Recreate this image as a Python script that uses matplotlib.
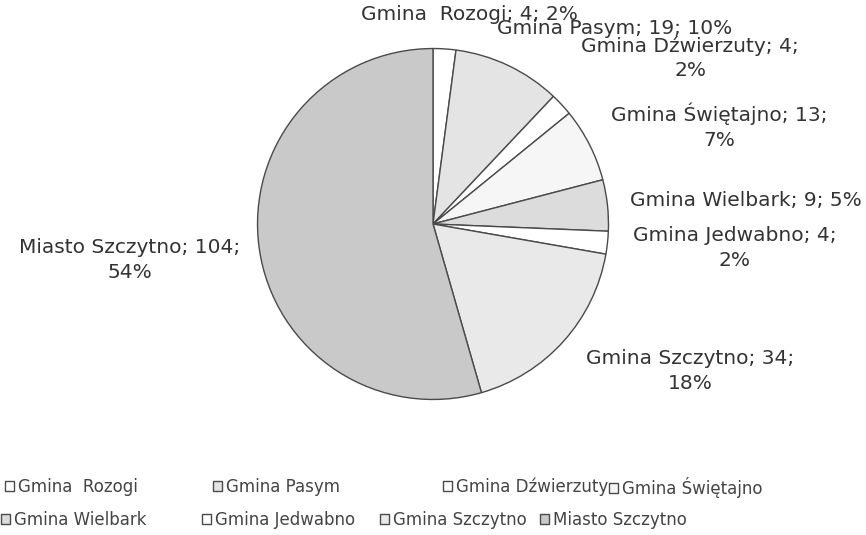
import matplotlib
matplotlib.use("Agg")
import matplotlib.pyplot as plt

# data
names = ["Gmina  Rozogi", "Gmina Pasym", "Gmina Dźwierzuty", "Gmina Świętajno",
         "Gmina Wielbark", "Gmina Jedwabno", "Gmina Szczytno", "Miasto Szczytno"]
counts = [4, 19, 4, 13, 9, 4, 34, 104]
percents = [2, 10, 2, 7, 5, 2, 18, 54]

# styling
fills = ["#ffffff", "#e4e4e4", "#ffffff", "#f6f6f6",
         "#dcdcdc", "#ffffff", "#e9e9e9", "#c9c9c9"]
# label text centres in pixels (x, y from top) and line breaks
label_pos = [(469, 15), (615, 28), (690, 58), (719, 126),
             (746, 200), (735, 248), (690, 371), (130, 260)]
two_line = [False, False, True, True, False, True, True, True]
# legend marker left edge (px), row y (px)
legend_pos = [(5, 487), (213, 487), (443, 487), (609, 487),
              (1, 520), (202, 520), (380, 520), (540, 520)]

W, H = 866, 535
fig = plt.figure(figsize=(W / 100, H / 100), dpi=100)
fig.patch.set_facecolor("white")

cx, cy, r = 433, 224, 176
ax = fig.add_axes([(cx - r) / W, 1 - (cy + r) / H, 2 * r / W, 2 * r / H])
wedges, _ = ax.pie(counts, colors=fills, startangle=90, counterclock=False,
                   wedgeprops=dict(edgecolor="#4a4a4a", linewidth=1.0))
ax.set_xlim(-1.003, 1.003)
ax.set_ylim(-1.003, 1.003)
ax.set_aspect("equal")

for name, c, p, (x, y), tl in zip(names, counts, percents, label_pos, two_line):
    if tl:
        txt = f"{name}; {c};\n{p}%"
    else:
        txt = f"{name}; {c}; {p}%"
    fig.text(x / W, 1 - y / H, txt, ha="center", va="center", fontsize=14.5,
             color="#333333", linespacing=1.4)

for w, name, (x, y) in zip(wedges, names, legend_pos):
    fig.legend([w], [name], loc="center left", bbox_to_anchor=(x / W, 1 - y / H),
               frameon=False, fontsize=12, borderpad=0, borderaxespad=0,
               handlelength=0.55, handleheight=0.55, handletextpad=0.25,
               labelcolor="#444444")

fig.savefig("out.png", dpi=100)
